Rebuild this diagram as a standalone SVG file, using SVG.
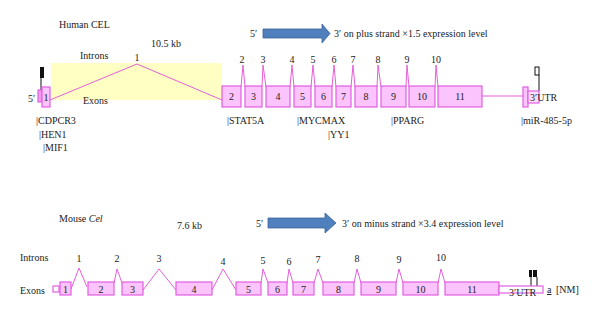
<svg xmlns="http://www.w3.org/2000/svg" width="600" height="319" viewBox="0 0 600 319">
<style>
text{font-family:"Liberation Serif","Times New Roman",serif;font-size:10px;fill:#222}
.c{text-anchor:middle}
.ex{fill:#fcc4fc;stroke:#e25ee2;stroke-width:1.2}
.utr{fill:#fde0fc;stroke:#e25ee2;stroke-width:1.2}
.in{fill:none;stroke:#e65fd9;stroke-width:1}
.arr{fill:#4f7fbd;stroke:#3c659a;stroke-width:0.8}
.mk{fill:#111}
</style>
<rect width="600" height="319" fill="#fff"/>

<!-- Human -->
<g id="human-title"><text x="59" y="28">Human CEL</text></g>
<g id="human-size"><text x="151" y="47">10.5 kb</text></g>
<g id="human-region"><rect x="51" y="63" width="171" height="37" fill="#ffffc4"/></g>
<g id="human-labels-rows"><text x="80" y="59">Introns</text><text x="83" y="104">Exons</text></g>
<g id="human-arrow">
<text x="250" y="37">5′</text>
<polygon class="arr" points="263,29 322,29 322,24 330,33.5 322,43 322,38 263,38"/>
<text x="334" y="37">3′ on plus strand ×1.5 expression level</text>
</g>

<g id="human-connectors">
<polyline class="in" points="50,100 137,64 222,100"/>
<polyline class="in" points="241,87 243,65 245,87"/>
<polyline class="in" points="262,87 263,65 266,87"/>
<polyline class="in" points="290,87 292,65 294,87"/>
<polyline class="in" points="311,87 313,65 315,87"/>
<polyline class="in" points="332,87 334,65 336,87"/>
<polyline class="in" points="351,87 353,65 355,87"/>
<polyline class="in" points="377,87 378,65 381,87"/>
<polyline class="in" points="406,87 407,65 409,87"/>
<polyline class="in" points="435,87 436,65 438,87"/>
<line class="in" x1="482" y1="96" x2="523" y2="96"/>
<line x1="41" y1="78" x2="41" y2="90" stroke="#111" stroke-width="1"/>
<line x1="539" y1="75" x2="539" y2="91" stroke="#111" stroke-width="1"/>
</g>

<g id="human-intron-numbers">
<text class="c" x="137" y="61">1</text>
<text class="c" x="242" y="63">2</text>
<text class="c" x="263" y="63">3</text>
<text class="c" x="292" y="63">4</text>
<text class="c" x="313" y="63">5</text>
<text class="c" x="334" y="63">6</text>
<text class="c" x="353" y="63">7</text>
<text class="c" x="378" y="63">8</text>
<text class="c" x="407" y="63">9</text>
<text class="c" x="436" y="63">10</text>
</g>

<g id="human-exon1">
<text x="28" y="102">5′</text>
<rect class="ex" x="38" y="90" width="4" height="12" style="fill:#f49cf0"/>
<rect class="ex" x="42" y="87" width="8" height="20"/>
<text class="c" x="46" y="101">1</text>
<rect class="mk" x="40" y="67" width="4" height="11"/>
</g>
<g id="human-exon2"><rect class="ex" x="222" y="86" width="19" height="21"/><text class="c" x="231.5" y="100">2</text></g>
<g id="human-exon3"><rect class="ex" x="245" y="86" width="17" height="21"/><text class="c" x="253.5" y="100">3</text></g>
<g id="human-exon4"><rect class="ex" x="266" y="86" width="24" height="21"/><text class="c" x="278" y="100">4</text></g>
<g id="human-exon5"><rect class="ex" x="294" y="86" width="17" height="21"/><text class="c" x="302.5" y="100">5</text></g>
<g id="human-exon6"><rect class="ex" x="315" y="86" width="17" height="21"/><text class="c" x="323.5" y="100">6</text></g>
<g id="human-exon7"><rect class="ex" x="336" y="86" width="15" height="21"/><text class="c" x="343.5" y="100">7</text></g>
<g id="human-exon8"><rect class="ex" x="355" y="86" width="22" height="21"/><text class="c" x="366" y="100">8</text></g>
<g id="human-exon9"><rect class="ex" x="381" y="86" width="25" height="21"/><text class="c" x="393.5" y="100">9</text></g>
<g id="human-exon10"><rect class="ex" x="409" y="86" width="26" height="21"/><text class="c" x="422" y="100">10</text></g>
<g id="human-exon11"><rect class="ex" x="438" y="86" width="44" height="21"/><text class="c" x="460" y="100">11</text></g>
<g id="human-utr">
<rect class="ex" x="523" y="87" width="5" height="20"/>
<rect class="utr" x="528" y="91" width="11" height="12"/>
<text x="530" y="101">3′UTR</text>
<rect x="535" y="67" width="4" height="8" fill="#fff" stroke="#111" stroke-width="1"/>
</g>

<g id="human-tf-labels">
<text x="36" y="124">|CDPCR3</text>
<text x="39" y="138">|HEN1</text>
<text x="43" y="151">|MIF1</text>
<text x="227" y="124">|STAT5A</text>
<text x="297" y="124">|MYCMAX</text>
<text x="328" y="138">|YY1</text>
<text x="391" y="124">|PPARG</text>
<text x="521" y="124">|miR-485-5p</text>
</g>

<!-- Mouse -->
<g id="mouse-title"><text x="59" y="222">Mouse <tspan font-style="italic">Cel</tspan></text></g>
<g id="mouse-size"><text x="177" y="229">7.6 kb</text></g>
<g id="mouse-arrow">
<text x="256" y="227">5′</text>
<polygon class="arr" points="268,218 325,218 325,213 336,223 325,233 325,228 268,228"/>
<text x="342" y="227">3′ on minus strand ×3.4 expression level</text>
</g>
<g id="mouse-labels-rows"><text x="20" y="261">Introns</text><text x="20" y="294">Exons</text></g>

<g id="mouse-connectors">
<polyline class="in" points="71,289 79,268 87,287"/>
<polyline class="in" points="114,283 117,269 122,283"/>
<polyline class="in" points="143,290 159,269 176,290"/>
<polyline class="in" points="212,290 223,269 236,290"/>
<polyline class="in" points="261,283 263,269 268,283"/>
<polyline class="in" points="287,283 289,269 293,283"/>
<polyline class="in" points="314,283 318,269 323,283"/>
<polyline class="in" points="354,283 357,269 361,283"/>
<polyline class="in" points="396,283 399,269 403,283"/>
<polyline class="in" points="438,283 441,269 445,283"/>
<line x1="531" y1="277" x2="531" y2="287" stroke="#111" stroke-width="1"/>
<line x1="537" y1="277" x2="537" y2="287" stroke="#111" stroke-width="1"/>
</g>

<g id="mouse-intron-numbers">
<text class="c" x="79" y="262">1</text>
<text class="c" x="117" y="262">2</text>
<text class="c" x="159" y="262">3</text>
<text class="c" x="223" y="265">4</text>
<text class="c" x="263" y="264">5</text>
<text class="c" x="289" y="265">6</text>
<text class="c" x="318" y="263">7</text>
<text class="c" x="357" y="262">8</text>
<text class="c" x="399" y="263">9</text>
<text class="c" x="441" y="261">10</text>
</g>

<g id="mouse-exon1">
<rect x="53" y="286" width="6" height="6" fill="#fff" stroke="#e25ee2" stroke-width="1.2"/>
<rect class="ex" x="60" y="282" width="11" height="13"/><text class="c" x="65.5" y="293">1</text>
</g>
<g id="mouse-exon2"><rect class="ex" x="88" y="282" width="26" height="13"/><text class="c" x="101" y="293">2</text></g>
<g id="mouse-exon3"><rect class="ex" x="122" y="282" width="21" height="13"/><text class="c" x="132.5" y="293">3</text></g>
<g id="mouse-exon4"><rect class="ex" x="176" y="282" width="36" height="13"/><text class="c" x="194" y="293">4</text></g>
<g id="mouse-exon5"><rect class="ex" x="236" y="282" width="25" height="13"/><text class="c" x="248.5" y="293">5</text></g>
<g id="mouse-exon6"><rect class="ex" x="268" y="282" width="19" height="13"/><text class="c" x="277.5" y="293">6</text></g>
<g id="mouse-exon7"><rect class="ex" x="293" y="282" width="21" height="13"/><text class="c" x="303.5" y="293">7</text></g>
<g id="mouse-exon8"><rect class="ex" x="323" y="282" width="31" height="13"/><text class="c" x="338.5" y="293">8</text></g>
<g id="mouse-exon9"><rect class="ex" x="361" y="282" width="35" height="13"/><text class="c" x="378.5" y="293">9</text></g>
<g id="mouse-exon10"><rect class="ex" x="403" y="282" width="35" height="13"/><text class="c" x="420.5" y="293">10</text></g>
<g id="mouse-exon11"><rect class="ex" x="445" y="282" width="54" height="13"/><text class="c" x="472" y="293">11</text></g>
<g id="mouse-utr">
<rect x="499" y="286" width="44" height="7" fill="#fff" stroke="#e25ee2" stroke-width="1.2"/>
<text x="509" y="296">3′UTR</text>
<rect class="mk" x="529" y="270" width="3" height="7"/>
<rect class="mk" x="533" y="270" width="4" height="7"/>
<text x="547" y="293" text-decoration="underline">a</text>
<text x="556" y="293">[NM]</text>
</g>
</svg>
